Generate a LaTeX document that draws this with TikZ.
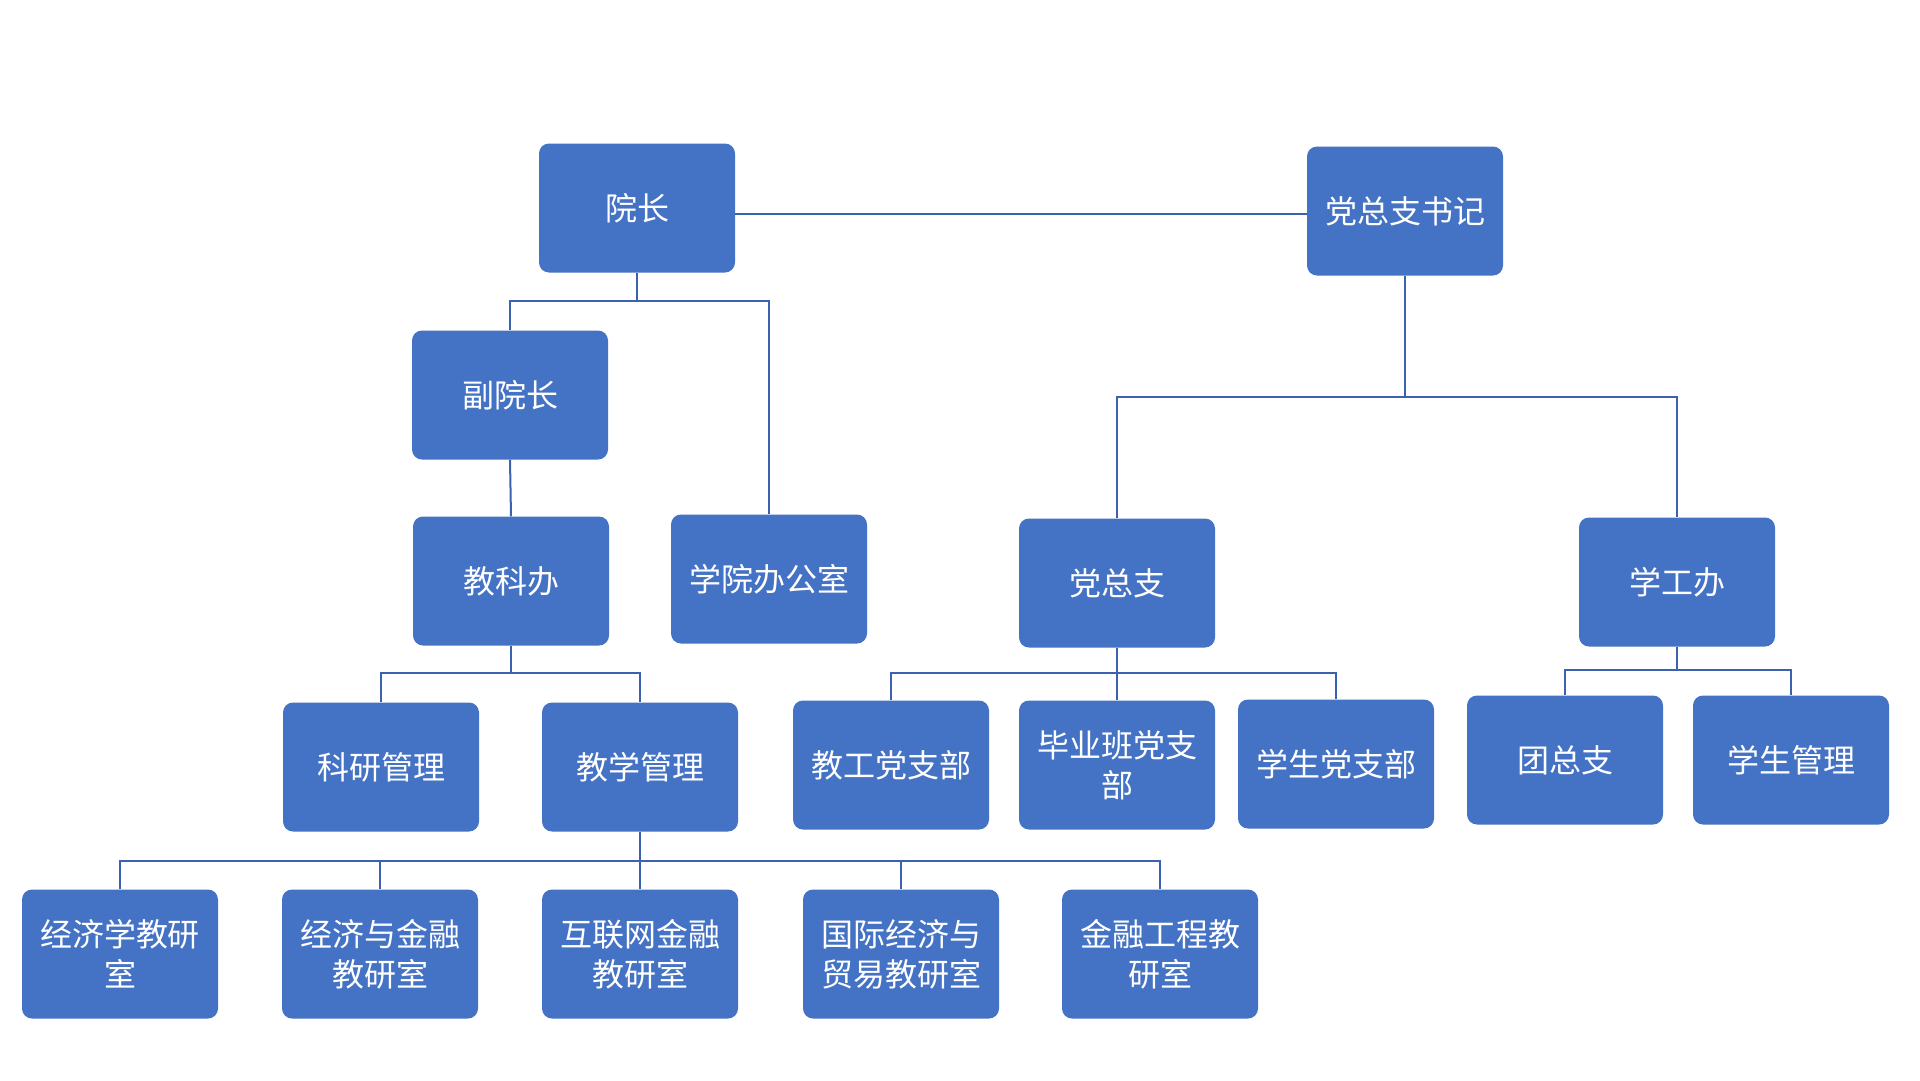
\documentclass[tikz,border=0pt]{standalone}
\usepackage{fontspec}
\newfontfamily\cjk{Noto Sans CJK SC}
\usetikzlibrary{positioning,calc}
\definecolor{boxBlue}{HTML}{4472C4}
\definecolor{lineBlue}{HTML}{3A62AE}

\tikzset{
  unit/.style={fill=boxBlue,rounded corners=10pt,minimum width=196pt,minimum height=129pt,
    text width=180pt,align=center,text=white,inner sep=0pt,
    font=\cjk\fontsize{32}{40}\selectfont},
  tie/.style={draw=lineBlue,line width=2pt}
}

\begin{document}
\begin{tikzpicture}[x=1pt,y=-1pt]
\useasboundingbox[fill=white] (0,0) rectangle (1920,1080);

% top level
\node[unit] (yuanzhang) at (637,208) {院长};
\node[unit] (shuji) at (1405,211) {党总支书记};

% second level
\node[unit] (fuyuanzhang) at (510,395) {副院长};
\node[unit] (jiaokeban) at (511,581) {教科办};
\node[unit] (bangongshi) at (769,579) {学院办公室};
\node[unit] (dangzongzhi) at (1117,583) {党总支};
\node[unit] (xuegongban) at (1677,582) {学工办};

% third level
\node[unit] (keyan) at (381,767) {科研管理};
\node[unit] (jiaoxue) at (640,767) {教学管理};
\node[unit] (jiaogong) at (891,765) {教工党支部};
\node[unit] (biye) at (1117,765) {毕业班党支\\部};
\node[unit] (xuesheng) at (1336,764) {学生党支部};
\node[unit] (tuan) at (1565,760) {团总支};
\node[unit] (guanli) at (1791,760) {学生管理};

% teaching sections
\node[unit] (jingji) at (120,954) {经济学教研\\室};
\node[unit] (jinrong) at (380,954) {经济与金融\\教研室};
\node[unit] (hulianwang) at (640,954) {互联网金融\\教研室};
\node[unit] (guoji) at (901,954) {国际经济与\\贸易教研室};
\node[unit] (gongcheng) at (1160,954) {金融工程教\\研室};

% junctions
\coordinate (busTop) at (1000,214);
\coordinate (busA) at (637,301);
\coordinate (busB) at (1405,397);
\coordinate (busC) at (511,673);
\coordinate (busD) at (1117,673);
\coordinate (busE) at (1677,670);
\coordinate (busF) at (640,861);

% connectors
\draw[tie] (yuanzhang.east |- busTop) -- (shuji.west |- busTop);
\draw[tie] (yuanzhang.south) -- (busA);
\draw[tie] (fuyuanzhang.north) |- (busA) -| (bangongshi.north);
\draw[tie] (fuyuanzhang.south) -- (jiaokeban.north);
\draw[tie] (shuji.south) -- (busB);
\draw[tie] (dangzongzhi.north) |- (busB) -| (xuegongban.north);
\draw[tie] (jiaokeban.south) -- (busC);
\draw[tie] (keyan.north) |- (busC) -| (jiaoxue.north);
\draw[tie] (dangzongzhi.south) -- (biye.north);
\draw[tie] (jiaogong.north) |- (busD) -| (xuesheng.north);
\draw[tie] (xuegongban.south) -- (busE);
\draw[tie] (tuan.north) |- (busE) -| (guanli.north);
\draw[tie] (jiaoxue.south) -- (hulianwang.north);
\draw[tie] (jingji.north) |- (busF) -| (gongcheng.north);
\draw[tie] (jinrong.north) -- (jinrong.north |- busF);
\draw[tie] (guoji.north) -- (guoji.north |- busF);
\end{tikzpicture}
\end{document}
